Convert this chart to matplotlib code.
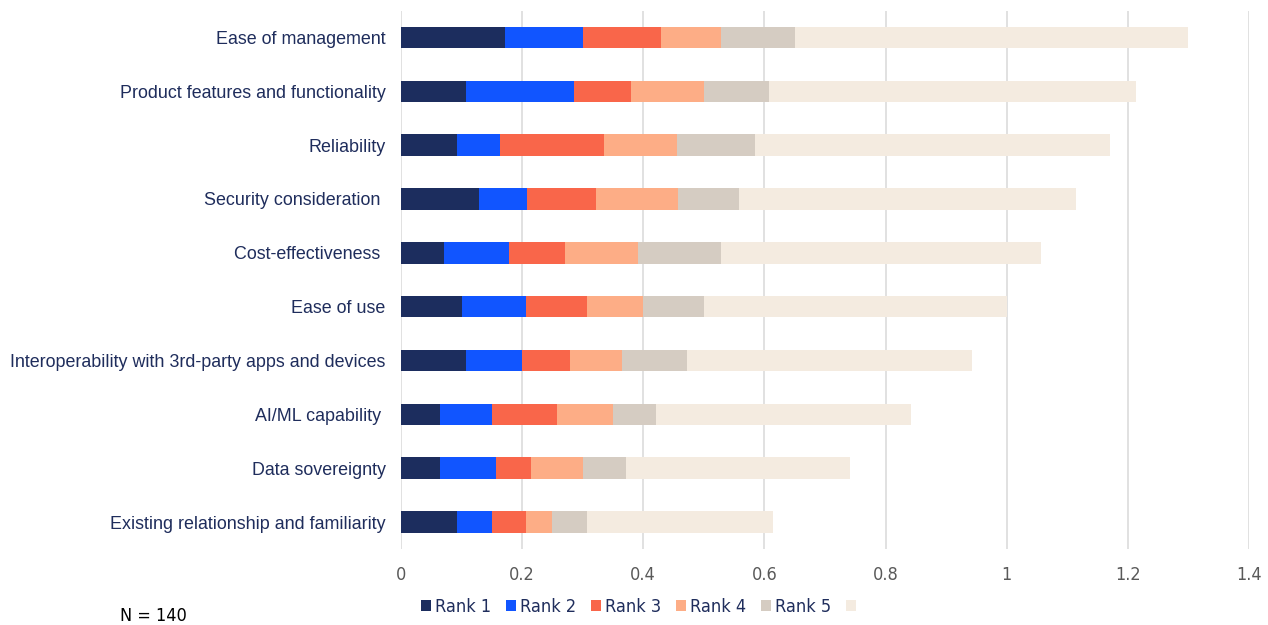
import numpy as np
import matplotlib
matplotlib.use("Agg")
import matplotlib.pyplot as plt
from matplotlib.font_manager import FontProperties

# Data (share of respondents, N = 140)
categories = [
    "Ease of management",
    "Product features and functionality",
    "Reliability",
    "Security consideration ",
    "Cost-effectiveness ",
    "Ease of use",
    "Interoperability with 3rd-party apps and devices",
    "AI/ML capability ",
    "Data sovereignty",
    "Existing relationship and familiarity",
]
rank1 = [0.171, 0.107, 0.093, 0.129, 0.071, 0.100, 0.107, 0.064, 0.064, 0.093]
rank2 = [0.129, 0.179, 0.071, 0.079, 0.107, 0.107, 0.093, 0.086, 0.093, 0.057]
rank3 = [0.129, 0.093, 0.171, 0.114, 0.093, 0.100, 0.079, 0.107, 0.057, 0.057]
rank4 = [0.100, 0.121, 0.121, 0.136, 0.121, 0.093, 0.086, 0.093, 0.086, 0.043]
rank5 = [0.121, 0.107, 0.129, 0.100, 0.136, 0.100, 0.107, 0.071, 0.071, 0.057]
total = [0.650, 0.607, 0.586, 0.557, 0.529, 0.500, 0.471, 0.421, 0.371, 0.307]

series = [rank1, rank2, rank3, rank4, rank5, total]
labels = ["Rank 1", "Rank 2", "Rank 3", "Rank 4", "Rank 5", " "]
colors = ["#1c2d5e", "#1155ff", "#f9664a", "#fdad86", "#d5ccc2", "#f4ebe0"]
xticks = [0, 0.2, 0.4, 0.6, 0.8, 1, 1.2, 1.4]
xtick_labels = ["0", "0.2", "0.4", "0.6", "0.8", "1", "1.2", "1.4"]

navy = "#1f2d5c"
narrow = FontProperties(family="DejaVu Sans", stretch="condensed", size=13)

fig = plt.figure(figsize=(12.68, 6.25), dpi=100)
ax = fig.add_axes([0.3162, 0.1216, 0.6688, 0.8616])

y = np.arange(len(categories))
left = np.zeros(len(categories))
bars = []
for vals, lab, col in zip(series, labels, colors):
    vals = np.array(vals)
    b = ax.barh(y, vals, left=left, height=0.4, color=col, zorder=3)
    bars.append(b)
    left += vals

ax.set_ylim(len(categories) - 0.5, -0.5)
ax.set_xlim(0, 1.4)
ax.set_xticks(xticks)
ax.set_xticklabels(xtick_labels, fontproperties=narrow, color="#595959")
ax.set_yticks(y)
ax.set_yticklabels(categories, family="Liberation Sans", fontsize=12.9, color=navy)
ax.tick_params(axis="both", length=0)
ax.tick_params(axis="x", pad=12)
ax.tick_params(axis="y", pad=11)
ax.grid(axis="x", color="#dedede", linewidth=1.3, zorder=0)
for s in ax.spines.values():
    s.set_visible(False)

fig.legend(bars, labels, loc="center", bbox_to_anchor=(0.507, 1 - 607 / 625),
           ncol=6, frameon=False, handlelength=0.6, handleheight=0.6,
           handletextpad=0.2, columnspacing=0.8,
           prop=narrow, labelcolor=navy)

fig.text(120 / 1268, 1 - 616 / 625, "N = 140", fontproperties=narrow,
         color="black", va="center", ha="left")

fig.savefig("out.png", dpi=100)
